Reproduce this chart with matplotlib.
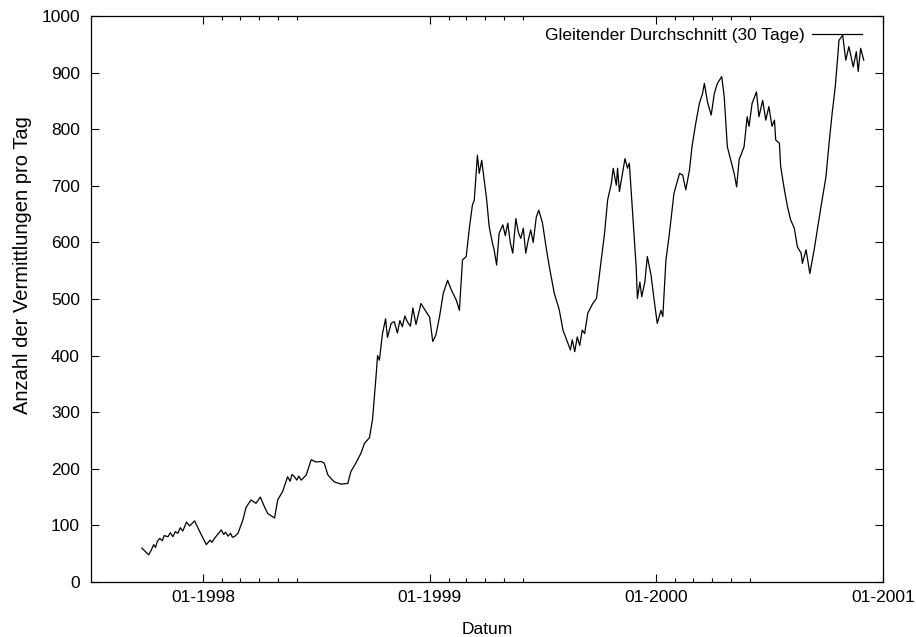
import numpy as np
import pandas as pd
import matplotlib
matplotlib.use('Agg')
import matplotlib.pyplot as plt

plt.rcParams['font.family'] = ['Liberation Sans', 'DejaVu Sans']

# 30-day moving average
dates = [
    '1997-09-24', '1997-10-05', '1997-10-09', '1997-10-13', '1997-10-16', '1997-10-19',
    '1997-10-23', '1997-10-27', '1997-10-30', '1997-11-05', '1997-11-09', '1997-11-13',
    '1997-11-17', '1997-11-21', '1997-11-25', '1997-11-29', '1997-12-05', '1997-12-10',
    '1997-12-18', '1997-12-29', '1998-01-06', '1998-01-12', '1998-01-15', '1998-01-19',
    '1998-01-30', '1998-02-03', '1998-02-06', '1998-02-10', '1998-02-14', '1998-02-17',
    '1998-02-20', '1998-02-26', '1998-03-06', '1998-03-11',
    '1998-03-19', '1998-03-27', '1998-04-03', '1998-04-10', '1998-04-15', '1998-04-26',
    '1998-05-01', '1998-05-09', '1998-05-17', '1998-05-21', '1998-05-24', '1998-05-28',
    '1998-06-01', '1998-06-04', '1998-06-08', '1998-06-16',
    '1998-06-24', '1998-07-02', '1998-07-10', '1998-07-15', '1998-07-21', '1998-07-31',
    '1998-08-11', '1998-08-22', '1998-08-27', '1998-09-04', '1998-09-12', '1998-09-18',
    '1998-09-26', '1998-10-01', '1998-10-07', '1998-10-09', '1998-10-12', '1998-10-17',
    '1998-10-22', '1998-10-25', '1998-10-31', '1998-11-05', '1998-11-10', '1998-11-14',
    '1998-11-18', '1998-11-22', '1998-11-26', '1998-12-01', '1998-12-05', '1998-12-10',
    '1998-12-18', '1998-12-26', '1999-01-01',
    '1999-01-06', '1999-01-11', '1999-01-17', '1999-01-23', '1999-01-30', '1999-02-05',
    '1999-02-13', '1999-02-18', '1999-02-23', '1999-03-01', '1999-03-06', '1999-03-11',
    '1999-03-14', '1999-03-19', '1999-03-22', '1999-03-26', '1999-03-30', '1999-04-03',
    '1999-04-07', '1999-04-12', '1999-04-15', '1999-04-19', '1999-04-23', '1999-04-29',
    '1999-05-03', '1999-05-07', '1999-05-11', '1999-05-15', '1999-05-20', '1999-05-24',
    '1999-05-28', '1999-06-01', '1999-06-05', '1999-06-09', '1999-06-13', '1999-06-17',
    '1999-06-22', '1999-06-26', '1999-07-02', '1999-07-08', '1999-07-13', '1999-07-21',
    '1999-07-29', '1999-08-04', '1999-08-12', '1999-08-16', '1999-08-19', '1999-08-23',
    '1999-08-27', '1999-08-31', '1999-09-04', '1999-09-08',
    '1999-09-13', '1999-09-21', '1999-09-27', '1999-10-02', '1999-10-10', '1999-10-15',
    '1999-10-21', '1999-10-24', '1999-10-29', '1999-10-31', '1999-11-03', '1999-11-08',
    '1999-11-12', '1999-11-16', '1999-11-19', '1999-11-24', '1999-11-30', '1999-12-02',
    '1999-12-06', '1999-12-09', '1999-12-14', '1999-12-18', '1999-12-24', '1999-12-29',
    '2000-01-03', '2000-01-09', '2000-01-12', '2000-01-17', '2000-01-22', '2000-01-30',
    '2000-02-08', '2000-02-13', '2000-02-18', '2000-02-24', '2000-02-28', '2000-03-05',
    '2000-03-11', '2000-03-16', '2000-03-19', '2000-03-24', '2000-03-30', '2000-04-04',
    '2000-04-09', '2000-04-16', '2000-04-20', '2000-04-25', '2000-05-01', '2000-05-06',
    '2000-05-10', '2000-05-14', '2000-05-22', '2000-05-27', '2000-05-30', '2000-06-04',
    '2000-06-11', '2000-06-15', '2000-06-21', '2000-06-26', '2000-07-01', '2000-07-06',
    '2000-07-10', '2000-07-12', '2000-07-18', '2000-07-20', '2000-07-26', '2000-07-31',
    '2000-08-05', '2000-08-11', '2000-08-16', '2000-08-22', '2000-08-24', '2000-08-30',
    '2000-09-05', '2000-09-12', '2000-09-17', '2000-09-23', '2000-10-01', '2000-10-06',
    '2000-10-11', '2000-10-16', '2000-10-20', '2000-10-22', '2000-10-28', '2000-11-02',
    '2000-11-07', '2000-11-14', '2000-11-19', '2000-11-22', '2000-11-26', '2000-12-01',
]
values = [
    60, 48, 56, 66, 61, 72,
    77, 73, 82, 80, 87, 80,
    89, 86, 96, 90, 106, 99,
    108, 83, 66, 74, 70, 77,
    92, 84, 88, 81, 86, 79,
    80, 86, 110, 132,
    145, 139, 150, 132, 121, 113,
    145, 160, 186, 178, 190, 186,
    180, 187, 180, 189,
    216, 212, 213, 210, 189, 177,
    173, 174, 195, 210, 227, 245,
    255, 288, 369, 400, 392, 439,
    465, 432, 457, 460, 440, 462,
    451, 470, 460, 452, 484, 455,
    492, 478, 468,
    425, 436, 469, 510, 533, 516,
    498, 480, 569, 575, 625, 666,
    675, 754, 722, 745, 710, 675,
    628, 600, 587, 560, 616, 631,
    612, 634, 600, 581, 642, 618,
    607, 625, 581, 604, 622, 600,
    645, 657, 634, 590, 557, 510,
    481, 445, 422, 410, 428, 407,
    433, 418, 445, 439,
    475, 492, 501, 545, 616, 675,
    704, 731, 701, 731, 690, 722,
    748, 731, 740, 657, 557, 501,
    530, 504, 530, 575, 542, 498,
    457, 480, 469, 569, 610, 687,
    722, 719, 693, 728, 769, 810,
    846, 863, 881, 848, 825, 863,
    881, 893, 857, 769, 743, 722,
    698, 746, 769, 822, 805, 846,
    866, 822, 851, 816, 840, 805,
    816, 781, 775, 734, 693, 663,
    640, 625, 592, 581, 563, 587,
    545, 587, 622, 663, 716, 775,
    828, 875, 928, 957, 966, 922,
    946, 910, 937, 902, 943, 922,
]

tick_years = [1998, 1999, 2000, 2001]
minor_months = [2, 3, 4, 5, 6]

df = pd.DataFrame({'datum': pd.to_datetime(dates), 'wert': values})

fig = plt.figure(figsize=(9.16, 6.37), dpi=100)
ax = fig.add_axes([91/916, 1-582/637, (883-91)/916, (582-16)/637])

ax.plot(df['datum'], df['wert'], color='black', lw=0.9,
        label='Gleitender Durchschnitt (30 Tage)')

ax.set_xlim(pd.Timestamp('1997-07-04'), pd.Timestamp('2001-01-01'))
ax.set_ylim(0, 1000)
ax.set_yticks(np.arange(0, 1001, 100))

major = [pd.Timestamp(f'{y}-01-01') for y in tick_years]
minor = [pd.Timestamp(f'{y}-{m:02d}-01') for y in tick_years[:-1] for m in minor_months]
ax.set_xticks(major)
ax.set_xticklabels([f'01-{y}' for y in tick_years])
ax.set_xticks(minor, minor=True)

ax.tick_params(which='both', direction='in', top=True, right=True, labelsize=12.5,
               width=0.8)
ax.tick_params(which='major', length=6)
ax.tick_params(axis='y', which='major', pad=8)
ax.tick_params(axis='x', which='major', pad=6)
ax.tick_params(which='minor', length=3)
for s in ax.spines.values():
    s.set_linewidth(0.9)

ax.set_xlabel('Datum', fontsize=12.5, labelpad=12)
ax.set_ylabel('Anzahl der Vermittlungen pro Tag', fontsize=14.5)
ax.yaxis.set_label_coords((32-91)/792, (582-265)/566)

ax.legend(loc='upper right', bbox_to_anchor=((862-91)/792, (582-28)/566),
          frameon=False, markerfirst=False, fontsize=12.5,
          handlelength=2.9, handletextpad=0.4, borderaxespad=0, borderpad=0)

fig.savefig('out.png', dpi=100)
